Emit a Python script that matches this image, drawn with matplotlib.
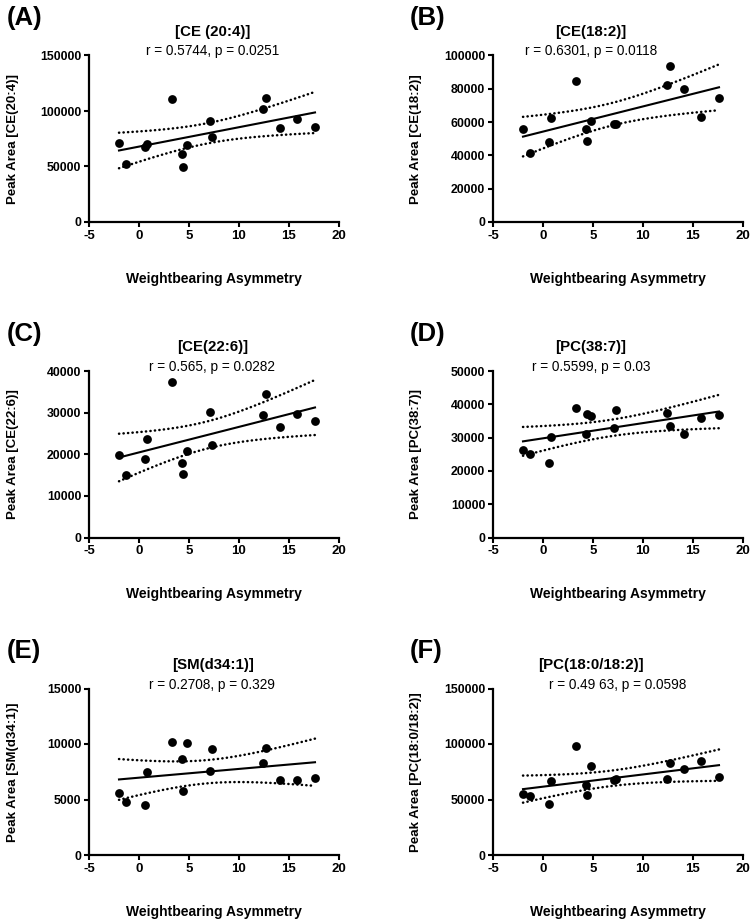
import numpy as np
import matplotlib
matplotlib.use("Agg")
import matplotlib.pyplot as plt

plt.rcParams['font.family'] = ['Liberation Sans', 'DejaVu Sans']

# Shared x values (Weightbearing Asymmetry)
x_vals = [-2.0, -1.3, 0.6, 0.83, 3.33, 4.33, 4.43, 4.8, 7.07, 7.33, 12.37, 12.67, 14.07, 15.83, 17.6]

ce204 = [71300, 52700, 67700, 70400, 110800, 61400, 49400, 69500, 91000, 76600, 101500, 111400, 84700, 93100, 85600]
ce182 = [55600, 41400, 48200, 62400, 84600, 55800, 48600, 60800, 59000, 58600, 82400, 93800, 79800, 63200, 74400]
ce226 = [19900, 15000, 18800, 23600, 37400, 18000, 15200, 20800, 30100, 22300, 29500, 34400, 26500, 29700, 28000]
pc387 = [26200, 25000, 22400, 30200, 38900, 31200, 37200, 36400, 32900, 38400, 37400, 33600, 31000, 35800, 36800]
smd341 = [5570, 4760, 4520, 7440, 10210, 8680, 5750, 10120, 7560, 9580, 8250, 9610, 6780, 6780, 6930]
pc180182 = [55100, 53300, 45800, 66300, 98500, 63300, 54200, 79800, 68000, 68800, 68400, 82500, 77400, 84300, 69900]

panel_letters = ["(A)", "(B)", "(C)", "(D)", "(E)", "(F)"]
titles = ["[CE (20:4)]", "[CE(18:2)]", "[CE(22:6)]", "[PC(38:7)]", "[SM(d34:1)]", "[PC(18:0/18:2)]"]
stats = ["r = 0.5744, p = 0.0251", "r = 0.6301, p = 0.0118", "r = 0.565, p = 0.0282",
         "r = 0.5599, p = 0.03", "r = 0.2708, p = 0.329", "r = 0.49 63, p = 0.0598"]
ylabels = ["Peak Area [CE(20:4)]", "Peak Area [CE(18:2)]", "Peak Area [CE(22:6)]",
           "Peak Area [PC(38:7)]", "Peak Area [SM(d34:1)]", "Peak Area [PC(18:0/18:2)]"]
series = [ce204, ce182, ce226, pc387, smd341, pc180182]
ymaxes = [150000, 100000, 40000, 50000, 15000, 150000]
ysteps = [50000, 20000, 10000, 10000, 5000, 50000]
xlabel = "Weightbearing Asymmetry"
xticks = [-5, 0, 5, 10, 15, 20]

T_CRIT = 2.1604  # t(0.975, df=13)

W, H = 751, 921
fig = plt.figure(figsize=(W / 100, H / 100), dpi=100)

col_left = [89, 493]
ax_w = 250
row_top = [55.5, 371, 688.5]
ax_h = 166.5
title_cx = [213, 591]
stats_cx = [213, 591, 212, 591, 212, 618]

for i in range(6):
    r, c = divmod(i, 2)
    left = col_left[c]
    top = row_top[r]
    ax = fig.add_axes([left / W, 1 - (top + ax_h) / H, ax_w / W, ax_h / H])
    xs = np.array(x_vals, dtype=float)
    ys = np.array(series[i], dtype=float)

    # Linear regression with 95% CI of the mean
    n = len(xs)
    b, a = np.polyfit(xs, ys, 1)
    xf = np.linspace(xs.min(), xs.max(), 100)
    yf = a + b * xf
    resid = ys - (a + b * xs)
    s = np.sqrt(np.sum(resid ** 2) / (n - 2))
    sxx = np.sum((xs - xs.mean()) ** 2)
    se = s * np.sqrt(1 / n + (xf - xs.mean()) ** 2 / sxx)
    ax.plot(xf, yf, color='black', lw=1.5, zorder=2)
    for band in (yf + T_CRIT * se, yf - T_CRIT * se):
        ax.plot(xf, band, color='black', lw=1.8, linestyle=(0, (0.1, 1.7)),
                dash_capstyle='round', zorder=2)
    ax.scatter(xs, ys, s=40, color='black', zorder=3, linewidths=0)

    ax.set_xlim(-5, 20)
    ax.set_ylim(0, ymaxes[i])
    ax.set_xticks(xticks)
    ax.set_yticks(np.arange(0, ymaxes[i] + 1, ysteps[i]))
    ax.set_xticklabels([str(t) for t in xticks], fontweight='bold', fontsize=9.5)
    ax.set_yticklabels([str(int(t)) for t in ax.get_yticks()], fontweight='bold', fontsize=8.8)
    for sp in ('top', 'right'):
        ax.spines[sp].set_visible(False)
    for sp in ('left', 'bottom'):
        ax.spines[sp].set_linewidth(1.6)
        ax.spines[sp].set_clip_on(False)
    ax.tick_params(width=1.5, length=3.5, pad=2)
    ax.set_xlabel(xlabel, fontweight='bold', fontsize=10)
    ax.xaxis.set_label_coords(0.5, -0.30)
    ax.xaxis.label.set_va('top')
    ax.set_ylabel(ylabels[i], fontweight='bold', fontsize=9.5)
    ax.yaxis.set_label_coords((13 + (0 if c == 0 else 403) - left) / ax_w, 0.5)
    ax.yaxis.label.set_va('center')

    fig.text(title_cx[c] / W, 1 - (top - 23.5) / H, titles[i], ha='center', va='center',
             fontweight='bold', fontsize=10.8)
    fig.text(stats_cx[i] / W, 1 - (top - 4) / H, stats[i], ha='center', va='center',
             fontsize=9.8)
    fig.text((7 + (0 if c == 0 else 403)) / W, 1 - (top - 37.5) / H, panel_letters[i],
             ha='left', va='center', fontweight='bold', fontsize=18.5)

fig.savefig("out.png", dpi=100)
